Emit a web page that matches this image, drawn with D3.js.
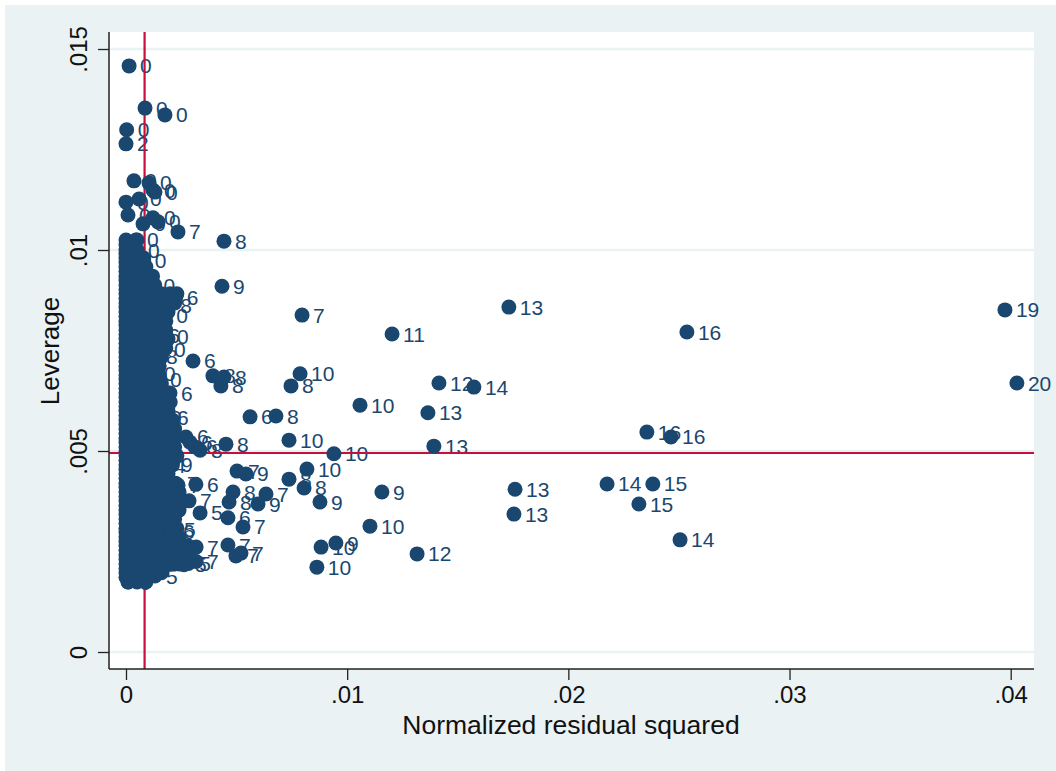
<!DOCTYPE html>
<html><head><meta charset="utf-8">
<script src="https://cdn.jsdelivr.net/npm/d3@7/dist/d3.min.js"></script>
<style>html,body{margin:0;padding:0;background:#fff;overflow:hidden}svg{display:block}text{font-family:"Liberation Sans",Arial,sans-serif}</style>
</head><body><svg id="c" width="1056" height="771"></svg>
<script>
// Labelled points readable in the picture: residual, leverage, label
const residuals = [.00014,.00086,.00176,.00003,0,.00036,.00104,.00122,.00131,.00059,0,.00009,.00077,.00122,.00145,.00235,.00443,.00434,.00796,.01203,.01731,.02536,.03974,.04028,.00303,.00393,.00443,.00429,.00787,.00746,.01415,.01573,.01058,.00561,.00678,.01365,.02355,.02464,.01392,.00452,.00737,.0094,.00502,.00542,.00818,.00737,.00805,.00877,.01157,.01103,.00949,.00882,.00863,.01316,.01759,.01754,.02175,.02382,.02319,.02505,.00484,.00466,.00633,.00597,.00461,.00529,.00461,.00497,.0052,.00199,.00271,.00289,.00312,.00335];
const leverages = [.01458,.01353,.01336,.01299,.01264,.01172,.01167,.01149,.01144,.01127,.01119,.01087,.01065,.0108,.0107,.01045,.01022,.0091,.00838,.00791,.00858,.00796,.00851,.00669,.00724,.00687,.00684,.00662,.00692,.00662,.00669,.00659,.00614,.00585,.00587,.00595,.00547,.00535,.00512,.00517,.00527,.00493,.0045,.00443,.00455,.0043,.00408,.00373,.00398,.00313,.00271,.00261,.00211,.00244,.00405,.00343,.00418,.00418,.00368,.00279,.00398,.00373,.00393,.00368,.00334,.00311,.00266,.00239,.00246,.00644,.00535,.00522,.0051,.00502];
const pointLabels = ["0","0","0","0","2","0","0","0","0","0","0","0","0","0","0","7","8","9","7","11","13","16","19","20","6","8","8","8","10","8","12","14","10","6","8","13","16","16","13","8","10","10","7","9","10","8","8","9","9","10","9","10","10","12","13","13","14","15","15","14","8","8","7","9","6","7","7","7","7","6","6","6","6","8"];

// Points at the right rim of the dense column, whose labels still show
const rimResiduals = [.00045,.0005,.0008,.0012,.00225,.00195,.00177,.00181,.00141,.00167,.00131,.00122,.00149,.00149,.00181,.00167,.00199,.00226,.00316,.00235,.00285,.00335,.00213,.00167,.00282,.00317,.00317,.00262,.00208,.00131,.00009];
const rimLeverages = [.01025,.01,.00975,.00911,.00883,.00861,.00837,.00785,.00787,.00752,.00734,.00694,.00677,.00584,.00584,.00464,.00467,.00419,.00417,.00415,.00376,.00346,.00304,.00225,.0022,.00261,.00225,.00217,.00299,.00189,.00174];
const rimLabels = ["0","0","0","0","6","8","0","0","6","0","8","0","0","0","6","4","9","7","6","7","7","5","5","5","5","7","7","5","6","5","6"];

// Dense column of unlabelled markers, row by row
const massLeverages = [.01025,.01002,.0098,.00958,.00935,.00913,.00891,.00868,.00846,.00823,.00801,.00779,.00756,.00734,.00711,.00689,.00667,.00644,.00622,.006,.00577,.00555,.00532,.0051,.00488,.00465,.00443,.0042,.00398,.00376,.00353,.00331,.00308,.00286,.00264,.00241,.00219,.00197,.00174];
const massResiduals = [
 [0,.0005],[0,.0004],[0,.0004,.0008],[0,.0004,.0009],[0,.0004,.0008,.0012],[0,.0004,.0008,.0013],
 [0,.0004,.0008,.0012,.0016,.002,.0023],[0,.0004,.0008,.0012,.0016,.002,.0022],[0,.0004,.0008,.0012,.0016,.0019],[0,.0004,.0008,.0012,.0016,.0018],
 [0,.0004,.0008,.0012,.0016,.0018],[0,.0004,.0008,.0012,.0016,.0019],[0,.0004,.0008,.0012,.0016,.0018],[0,.0004,.0008,.0012,.0016],[0,.0004,.0008,.0012,.0015],
 [0,.0004,.0008,.0012,.0015],[0,.0004,.0008,.0012,.0016],[0,.0004,.0008,.0012,.0016,.0019],[0,.0004,.0008,.0012,.0016,.002],[0,.0004,.0008,.0012,.0016,.0019],
 [0,.0004,.0008,.0012,.0016,.0021],[0,.0004,.0008,.0012,.0016,.002,.0022],[0,.0004,.0008,.0012,.0016,.002,.0022],[0,.0004,.0008,.0012,.0016,.002,.0022],[0,.0004,.0008,.0012,.0016,.002,.0023],
 [0,.0004,.0008,.0012,.0016,.002,.0021],[0,.0004,.0008,.0012,.0016,.0019],[0,.0004,.0008,.0012,.0016,.002,.0022],[0,.0004,.0008,.0012,.0016,.002,.0024],[0,.0004,.0008,.0012,.0016,.002,.0025],
 [0,.0004,.0008,.0012,.0016,.002,.0024],[0,.0004,.0008,.0012,.0016,.002,.0022],[0,.0004,.0008,.0012,.0016,.002,.0023],[0,.0004,.0008,.0012,.0016,.002,.0024],[0,.0004,.0008,.0012,.0016,.002,.0024,.0028],
 [0,.0004,.0008,.0012,.0016,.002,.0024,.0028],[0,.0004,.0008,.0012,.0016,.002,.0024],[0,.0004,.0008,.0012,.0016],[.0001,.0005,.0009]
];
// Extra markers hugging the left edge of the column, between the rows above
const edgeLeverages = [.01013,.00991,.00969,.00947,.00924,.00902,.0088,.00857,.00835,.00812,.0079,.00768,.00745,.00723,.007,.00678,.00656,.00633,.00611,.00589,.00566,.00544,.00521,.00499,.00477,.00454,.00432,.00409,.00387,.00365,.00342,.0032,.00297,.00275,.00253,.0023,.00208,.00186];

const xTicks = [0,.01,.02,.03,.04];
const yTicks = [0,.005,.01,.015];
const tickText = v => v === 0 ? "0" : String(v).replace(/^0/, "");
const meanResidual = .00084, meanLeverage = .00495;

const NAVY = "#1a476f", RED = "#c60f3c", BG = "#eaf2f3";
const svg = d3.select("#c");
const x = d3.scaleLinear().domain([0,.04]).range([126,1010.7]);
const y = d3.scaleLinear().domain([0,.015]).range([652,49]);
const L = 109, R = 1034, T = 32, B = 669;

svg.append("rect").attr("x",5).attr("y",5).attr("width",1051).attr("height",766).attr("fill",BG);
svg.append("rect").attr("x",L).attr("y",T).attr("width",R-L).attr("height",B-T).attr("fill","#fff");

svg.append("g").selectAll("line").data(yTicks).join("line")
  .attr("x1",L).attr("x2",R).attr("y1",d=>y(d)).attr("y2",d=>y(d))
  .attr("stroke",BG).attr("stroke-width",2.5);

const pts = residuals.map((r,i)=>({r,l:leverages[i],t:pointLabels[i]}))
  .concat(rimResiduals.map((r,i)=>({r,l:rimLeverages[i],t:rimLabels[i]})));
const mass = massLeverages.flatMap((l,i)=>massResiduals[i].map(r=>({r,l})))
  .concat(edgeLeverages.map(l=>({r:0,l})));

svg.append("g").selectAll("text").data(pts).join("text")
  .attr("x",d=>x(d.r)+11).attr("y",d=>y(d.l)+7.5)
  .attr("font-size",21).attr("fill",NAVY).text(d=>d.t);

svg.append("line").attr("x1",x(meanResidual)).attr("x2",x(meanResidual)).attr("y1",T).attr("y2",B).attr("stroke",RED).attr("stroke-width",2.2);
svg.append("line").attr("x1",L).attr("x2",R).attr("y1",y(meanLeverage)).attr("y2",y(meanLeverage)).attr("stroke",RED).attr("stroke-width",2.2);

svg.append("g").selectAll("circle").data(mass.concat(pts)).join("circle")
  .attr("cx",d=>x(d.r)).attr("cy",d=>y(d.l)).attr("r",7.5).attr("fill",NAVY);

const xAxis = svg.append("g").attr("transform",`translate(0,${B})`)
  .call(d3.axisBottom(x).tickValues(xTicks).tickFormat(tickText).tickSize(11).tickPadding(6).tickSizeOuter(0));
xAxis.select(".domain").attr("d",`M${L},0H${R}`).attr("stroke","#222").attr("stroke-width",1.5);
xAxis.selectAll(".tick line").attr("stroke","#222").attr("stroke-width",1.3);
xAxis.selectAll("text").attr("font-size",24).attr("fill","#111").attr("font-family","Liberation Sans");

const yAxis = svg.append("g").attr("transform",`translate(${L},0)`)
  .call(d3.axisLeft(y).tickValues(yTicks).tickFormat(tickText).tickSize(11).tickSizeOuter(0));
yAxis.select(".domain").attr("d",`M0,${T}V${B}`).attr("stroke","#222").attr("stroke-width",1.5);
yAxis.selectAll(".tick line").attr("stroke","#222").attr("stroke-width",1.3);
yAxis.selectAll("text").attr("font-size",24).attr("fill","#111").attr("font-family","Liberation Sans")
  .attr("text-anchor","middle").attr("dy",0).attr("x",0).attr("y",0)
  .attr("transform","translate(-22,0) rotate(-90)");

svg.append("text").attr("x",571).attr("y",734).attr("text-anchor","middle").attr("font-size",26.5).attr("fill","#111").text("Normalized residual squared");
svg.append("text").attr("transform","translate(59,351) rotate(-90)").attr("text-anchor","middle").attr("font-size",26).attr("fill","#111").text("Leverage");
</script></body></html>
